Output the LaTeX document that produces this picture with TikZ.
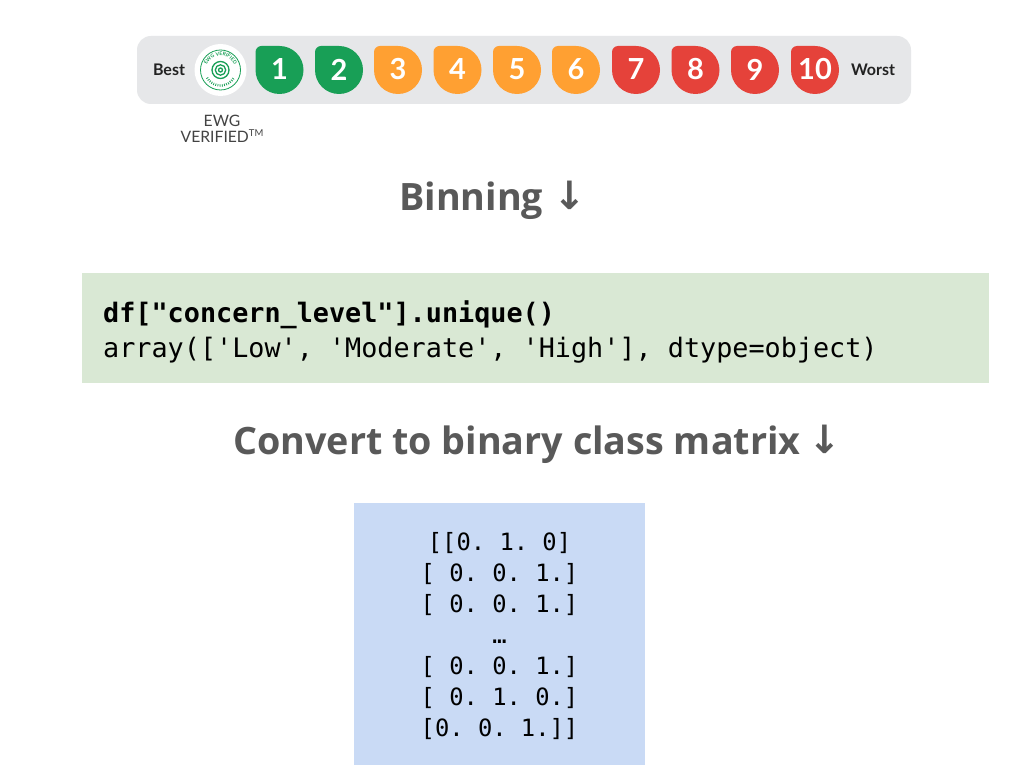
\documentclass[tikz,border=0pt]{standalone}
\usepackage{fontspec}
\setmainfont{Lato}
\setmonofont{DejaVu Sans Mono}
\newfontfamily\headfont{Open Sans}
\newfontfamily\arrowfont{DejaVu Sans}
\usetikzlibrary{calc,decorations.text}
\definecolor{barbg}{HTML}{E6E7E9}
\definecolor{bgreen}{HTML}{189F56}
\definecolor{borange}{HTML}{FFA032}
\definecolor{bred}{HTML}{E5423A}
\definecolor{head}{HTML}{595959}
\definecolor{codebg}{HTML}{D9E8D4}
\definecolor{matbg}{HTML}{C9DAF5}
\definecolor{ink}{HTML}{222222}
\tikzset{
  x=1pt,y=-1pt,
  heading/.style={font=\headfont\bfseries\fontsize{37.7}{37.7}\selectfont,text=head,inner sep=0pt,anchor=base west},
  arrowmark/.style={font=\arrowfont\bfseries\fontsize{39}{39}\selectfont,text=head,inner sep=0pt,anchor=base},
  badgenum/.style={font=\bfseries\fontsize{29}{29}\selectfont,text=white,inner sep=0pt},
  endlabel/.style={font=\bfseries\fontsize{16}{16}\selectfont,text=ink,inner sep=0pt},
  code/.style={font=\ttfamily\fontsize{26.8}{26.8}\selectfont,text=black,inner sep=0pt,anchor=base west},
  mat/.style={font=\ttfamily\fontsize{23.8}{23.8}\selectfont,text=black,inner sep=0pt,anchor=base},
  ewg/.style={font=\fontsize{15.7}{15.7}\selectfont,text=ink!85,inner sep=0pt,anchor=base},
}
\newcommand{\badge}[3]{%
  \fill[#2] (#1-24,46+6) arc[start angle=180,end angle=90,radius=6pt] -- (#1,46)
    arc[start angle=90,end angle=-180,radius=24pt] -- cycle;
  \node[badgenum] (b#3) at (#1,69.5) {#3};
}
\begin{document}
\begin{tikzpicture}
\useasboundingbox (0,0) rectangle (1016,783);
\fill[white] (0,0) rectangle (1016,783);
\fill[barbg,rounded corners=14pt] (137,36) rectangle (911,104);
\node[endlabel] (best) at (169,70) {Best};
\node[endlabel] (worst) at (873,70) {Worst};
\fill[white] (220.5,70) circle[radius=26pt];
\draw[bgreen,line width=0.8pt] (220.5,70) circle[radius=20pt];
\draw[bgreen,line width=2.4pt,dash pattern=on 0.8pt off 1.4pt] (220.5,70) ++(-150:15.5pt) arc[start angle=-150,end angle=-30,radius=15.5pt];
\path[decorate,decoration={text along path,text align=center,text={|\fontsize{5}{5}\selectfont\bfseries\color{bgreen}|EWG VERIFIED}}]
  (220.5,70) ++(165:14.5pt) arc[start angle=165,end angle=15,radius=14.5pt];
\draw[bgreen,line width=1.3pt] (220.5,70) circle[radius=8.5pt];
\draw[bgreen,line width=1.3pt] (220.5,70) circle[radius=5.2pt];
\draw[bgreen,line width=1.3pt] (220.5,70) circle[radius=2pt];
\badge{279.5}{bgreen}{1}
\badge{339}{bgreen}{2}
\badge{398}{borange}{3}
\badge{457.5}{borange}{4}
\badge{517}{borange}{5}
\badge{576}{borange}{6}
\badge{636}{bred}{7}
\badge{695.5}{bred}{8}
\badge{755}{bred}{9}
\badge{815}{bred}{10}
\node[ewg] (ewg1) at (222,127) {EWG};
\node[ewg] (ewg2) at (222,143) {VERIFIED\raisebox{0.42em}{\fontsize{9.5}{9.5}\selectfont TM}};
\node[heading] (bin) at (399,211) {Binning};
\node[arrowmark] (binarrow) at (570,210) {↓};
\fill[codebg] (82,273) rectangle (989,383);
\node[code] (c1) at (103,322) {\bfseries df["concern\_level"].unique()};
\node[code] (c2) at (103,357) {array(['Low', 'Moderate', 'High'], dtype=object)};
\node[heading] (conv) at (233,454) {Convert to binary class matrix};
\node[arrowmark] (convarrow) at (825,453) {↓};
\fill[matbg] (354,503) rectangle (645,765);
\node[mat] (m1) at (499.5,550) {[[0. 1. 0]};
\node[mat] (m2) at (499.5,581) {[ 0. 0. 1.]};
\node[mat] (m3) at (499.5,612) {[ 0. 0. 1.]};
\node[mat] (m4) at (499.5,643) {…};
\node[mat] (m5) at (499.5,674) {[ 0. 0. 1.]};
\node[mat] (m6) at (499.5,705) {[ 0. 1. 0.]};
\node[mat] (m7) at (499.5,736) {[0. 0. 1.]]};
\end{tikzpicture}
\end{document}
